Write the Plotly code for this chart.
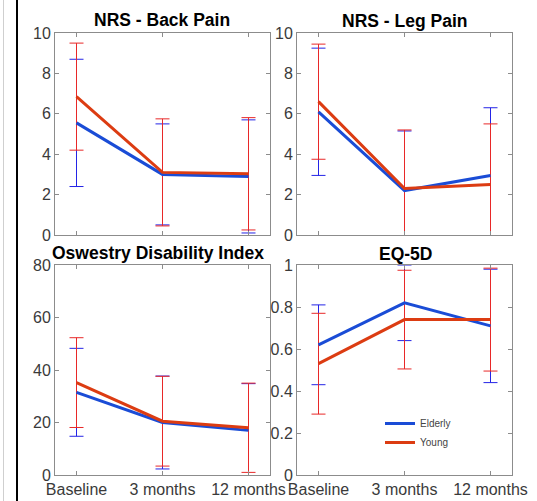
import plotly.graph_objects as go

W, H = 537, 501

categories = ["Baseline", "3 months", "12 months"]
x_pos = [1, 2, 3]

panels = ["NRS - Back Pain", "NRS - Leg Pain", "Oswestry Disability Index", "EQ-5D"]

# means
back_elderly = [5.55, 3.0, 2.9]
back_young = [6.85, 3.1, 3.03]
leg_elderly = [6.1, 2.2, 2.95]
leg_young = [6.6, 2.3, 2.5]
odi_elderly = [31.5, 20.0, 17.0]
odi_young = [35.2, 20.5, 18.0]
eq_elderly = [0.62, 0.82, 0.71]
eq_young = [0.53, 0.74, 0.74]

# standard deviations (error bar half-lengths)
back_elderly_sd = [3.15, 2.5, 2.8]
back_young_sd = [2.65, 2.65, 2.78]
leg_elderly_sd = [3.15, 2.95, 3.35]
leg_young_sd = [2.85, 2.9, 3.0]
odi_elderly_sd = [16.75, 17.7, 17.8]
odi_young_sd = [17.1, 17.1, 17.0]
eq_elderly_sd = [0.19, 0.18, 0.27]
eq_young_sd = [0.24, 0.235, 0.245]

y_ranges = [[0, 10], [0, 10], [0, 80], [0, 1]]
y_ticks = [[0, 2, 4, 6, 8, 10], [0, 2, 4, 6, 8, 10], [0, 20, 40, 60, 80], [0, 0.2, 0.4, 0.6, 0.8, 1]]

data = [
    (back_elderly, back_elderly_sd, back_young, back_young_sd),
    (leg_elderly, leg_elderly_sd, leg_young, leg_young_sd),
    (odi_elderly, odi_elderly_sd, odi_young, odi_young_sd),
    (eq_elderly, eq_elderly_sd, eq_young, eq_young_sd),
]

BLUE_LINE = "#1a4cd6"
RED_LINE = "#dc3c12"
BLUE_ERR = "#2424e6"
RED_ERR = "#e82828"
AXIS = "#8c8c8c"
TXT = "#3a3a3a"

# pixel boxes: (x0, x1, ytop, ybottom)
boxes = [(55, 270, 33, 235), (297, 512, 33, 235), (55, 270, 265, 475), (297, 512, 265, 475)]
title_pos = [(162, 20), (404, 21), (158, 253), (405, 254)]

fig = go.Figure()
layout = dict(
    width=W, height=H, margin=dict(l=0, r=0, t=0, b=0, autoexpand=False),
    paper_bgcolor="white", plot_bgcolor="white",
    font=dict(family="Liberation Sans, Arial, sans-serif", size=15, color=TXT),
    showlegend=True,
    legend=dict(x=380 / W, y=1 - 409 / H, xanchor="left", yanchor="top",
                bgcolor="rgba(0,0,0,0)", font=dict(size=10, color="#444"),
                tracegroupgap=0, itemwidth=30),
)

annotations = []
for i, (el, el_sd, yo, yo_sd) in enumerate(data):
    n = i + 1
    xa = "x" if n == 1 else f"x{n}"
    ya = "y" if n == 1 else f"y{n}"
    fig.add_trace(go.Scatter(x=x_pos, y=el, mode="markers", marker=dict(size=1, opacity=0),
                             error_y=dict(type="data", array=el_sd, color=BLUE_ERR, thickness=1, width=7),
                             showlegend=False, hoverinfo="skip", xaxis=xa, yaxis=ya))
    fig.add_trace(go.Scatter(x=x_pos, y=yo, mode="markers", marker=dict(size=1, opacity=0),
                             error_y=dict(type="data", array=yo_sd, color=RED_ERR, thickness=1, width=7),
                             showlegend=False, hoverinfo="skip", xaxis=xa, yaxis=ya))
    fig.add_trace(go.Scatter(x=x_pos, y=el, mode="lines", line=dict(color=BLUE_LINE, width=3),
                             name="Elderly", showlegend=(n == 4), xaxis=xa, yaxis=ya))
    fig.add_trace(go.Scatter(x=x_pos, y=yo, mode="lines", line=dict(color=RED_LINE, width=3),
                             name="Young", showlegend=(n == 4), xaxis=xa, yaxis=ya))

    x0, x1, yt, yb = boxes[i]
    key = "" if n == 1 else str(n)
    layout["xaxis" + key] = dict(
        domain=[x0 / W, x1 / W], anchor=ya, range=[0.75, 3.25],
        tickvals=x_pos, ticktext=categories, showticklabels=(n >= 3),
        ticks="inside", ticklen=4, tickcolor=AXIS, showline=True, linecolor=AXIS, linewidth=1,
        mirror="ticks", showgrid=False, zeroline=False, tickfont=dict(size=16, color=TXT),
        automargin=False,
    )
    layout["yaxis" + key] = dict(
        domain=[1 - yb / H, 1 - yt / H], anchor=xa, range=y_ranges[i],
        tickvals=y_ticks[i], ticks="inside", ticklen=4, tickcolor=AXIS,
        showline=True, linecolor=AXIS, linewidth=1, mirror="ticks",
        showgrid=False, zeroline=False, tickfont=dict(size=16, color=TXT),
        automargin=False,
    )
    tx, ty = title_pos[i]
    annotations.append(dict(text=f"<b>{panels[i]}</b>", x=tx / W, y=1 - ty / H, xref="paper", yref="paper",
                            xanchor="center", yanchor="middle", showarrow=False,
                            font=dict(size=17.5, color="black")))

layout["annotations"] = annotations
layout["shapes"] = [
    dict(type="line", xref="paper", yref="paper", x0=3.5 / W, x1=3.5 / W, y0=0, y1=1,
         line=dict(color="#cfcfcf", width=1)),
    dict(type="line", xref="paper", yref="paper", x0=17 / W, x1=17 / W, y0=0, y1=1,
         line=dict(color="black", width=2)),
]
fig.update_layout(**layout)
fig.write_html("out.html", config={"displayModeBar": False},
               post_script="document.body.style.margin='0';document.body.style.overflow='hidden';")
